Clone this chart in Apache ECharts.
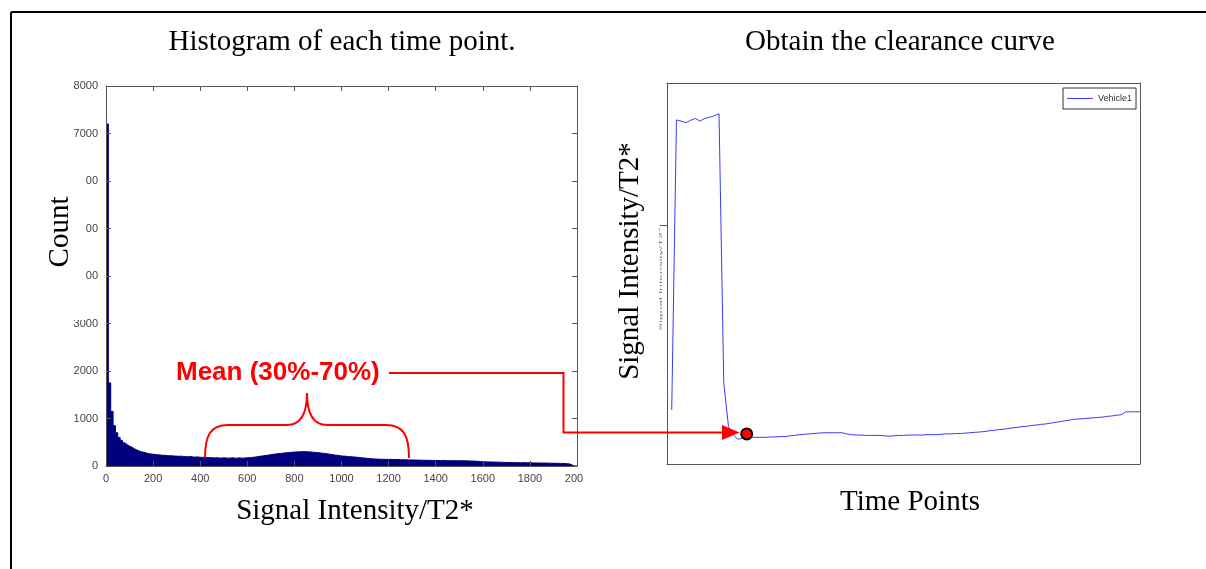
<!DOCTYPE html>
<html><head><meta charset="utf-8">
<script src="https://cdn.jsdelivr.net/npm/echarts@6/dist/echarts.min.js"></script>
<style>html,body{margin:0;padding:0;background:#fff}#c{width:1206px;height:569px}</style>
</head><body><div id="c"></div>
<script>
// ---- Data ----
const histBinWidth = 10; // signal intensity units per bin
const histCounts = [
 7200,1750,1150,850,700,600,540,490,450,420,
 395,365,340,318,300,288,275,262,255,248,
 242,236,232,226,224,220,216,214,210,208,
 204,207,200,197,195,199,190,188,191,184,
 181,186,177,180,174,171,176,169,167,172,
 169,165,168,172,164,167,170,164,168,173,
 176,181,186,193,201,208,216,222,231,238,
 246,252,259,264,270,276,280,286,288,293,
 296,298,301,303,300,299,295,291,286,281,
 276,270,263,256,249,241,233,226,219,213,
 208,204,199,195,191,187,182,177,171,166,
 161,156,151,148,146,143,142,141,140,139,
 139,137,136,135,133,132,131,129,128,127,
 126,124,124,122,121,120,119,118,117,117,
 116,115,115,114,113,113,112,112,111,111,
 110,109,108,107,106,104,102,99,95,91,
 88,86,85,84,83,81,80,78,76,75,
 74,73,72,71,70,70,69,70,68,67,
 66,65,64,63,62,62,61,60,59,58,
 57,56,55,54,52,48,42,20,0,0
];
const histYTickLabels = ['0','1000','2000','3000','4000','5000','6000','7000','8000'];
const histXTickLabels = ['0','200','400','600','800','1000','1200','1400','1600','1800','2000'];
const curveName = 'Vehicle1';
const curveValues = [
 14.2,90.3,90.0,89.6,90.2,90.7,90.0,90.7,91.0,91.4,
 91.9,21.3,9.8,7.6,6.5,6.8,7.0,7.0,7.0,7.0,
 7.0,7.1,7.1,7.2,7.2,7.4,7.5,7.7,7.8,7.9,
 8.0,8.1,8.2,8.2,8.2,8.2,8.2,7.9,7.7,7.6,
 7.6,7.5,7.5,7.5,7.5,7.4,7.3,7.4,7.5,7.5,
 7.6,7.6,7.6,7.6,7.7,7.7,7.7,7.8,7.9,7.9,
 8.0,8.0,8.1,8.2,8.3,8.4,8.5,8.7,8.8,9.0,
 9.1,9.3,9.5,9.6,9.8,9.9,10.1,10.2,10.4,10.5,
 10.7,10.9,11.1,11.3,11.5,11.7,11.8,11.9,12.0,12.1,
 12.2,12.3,12.5,12.6,12.8,12.9,13.7,13.7,13.7,13.7
];
const markedPoint = [16.85, 7.9];

// ---- Build ----
const histData = histCounts.map((c, i) => [i * histBinWidth, c]);
histData.push([histCounts.length * histBinWidth, 0]);
const curveData = curveValues.map((v, i) => [i + 1, v]);

const serif = '"Liberation Serif","Times New Roman",serif';
const sans = 'Arial,"Liberation Sans",sans-serif';
const boxLine = {show: true, onZero: false, lineStyle: {color: '#555', width: 1}};
const inTick = {show: true, inside: true, length: 5, lineStyle: {color: '#555', width: 1}};
const red = '#ff0000';
const redStroke = {stroke: red, lineWidth: 2, fill: null};
const curveColor = '#3a3aff';

const chart = echarts.init(document.getElementById('c'));
chart.setOption({
  animation: false,
  backgroundColor: '#fff',
  grid: [
    {left: 106, top: 86, width: 471, height: 380},
    {left: 667, top: 83, width: 473, height: 381}
  ],
  legend: {
    data: [{name: curveName, icon: 'path://M0,0 L26,0 L26,1 L0,1 Z'}],
    left: 1063, top: 88, orient: 'horizontal',
    borderColor: '#333', borderWidth: 1, padding: [6, 4, 6, 4],
    itemWidth: 26, itemHeight: 14, itemGap: 0, symbolKeepAspect: true,
    itemStyle: {color: curveColor},
    textStyle: {fontSize: 9, color: '#333', fontFamily: sans}
  },
  xAxis: [
    {gridIndex: 0, type: 'value', min: 0, max: 2000, interval: 200, position: 'bottom', z: 5,
     axisLine: boxLine, axisTick: inTick, splitLine: {show: false},
     axisLabel: {color: '#444', fontSize: 11, fontFamily: sans, margin: 7,
       formatter: (v) => histXTickLabels[Math.round(v / 200)]}},
    {gridIndex: 0, type: 'value', min: 0, max: 2000, interval: 200, position: 'top',
     axisLine: boxLine, axisTick: inTick, splitLine: {show: false}, axisLabel: {show: false}},
    {gridIndex: 1, type: 'value', min: 0, max: 100, position: 'bottom',
     axisLine: boxLine, axisTick: {show: false}, splitLine: {show: false}, axisLabel: {show: false}},
    {gridIndex: 1, type: 'value', min: 0, max: 100, position: 'top',
     axisLine: boxLine, axisTick: {show: false}, splitLine: {show: false}, axisLabel: {show: false}}
  ],
  yAxis: [
    {gridIndex: 0, type: 'value', min: 0, max: 8000, interval: 1000, position: 'left', z: 5,
     axisLine: boxLine, axisTick: inTick, splitLine: {show: false},
     axisLabel: {color: '#444', fontSize: 11, fontFamily: sans, margin: 8,
       formatter: (v) => histYTickLabels[Math.round(v / 1000)]}},
    {gridIndex: 0, type: 'value', min: 0, max: 8000, interval: 1000, position: 'right',
     axisLine: boxLine, axisTick: inTick, splitLine: {show: false}, axisLabel: {show: false}},
    {gridIndex: 1, type: 'value', min: 0, max: 100, position: 'left',
     axisLine: boxLine, axisTick: {show: false}, splitLine: {show: false}, axisLabel: {show: false}},
    {gridIndex: 1, type: 'value', min: 0, max: 100, position: 'right',
     axisLine: boxLine, axisTick: {show: false}, splitLine: {show: false}, axisLabel: {show: false}}
  ],
  series: [
    {name: 'hist', type: 'line', xAxisIndex: 0, yAxisIndex: 0, step: 'end', symbol: 'none',
     data: histData, lineStyle: {color: '#00007f', width: 1}, areaStyle: {color: '#00007f', opacity: 1}, z: 2},
    {name: curveName, type: 'line', xAxisIndex: 2, yAxisIndex: 2, symbol: 'none',
     data: curveData, lineStyle: {color: curveColor, width: 1}, itemStyle: {color: curveColor}},
    {name: 'mark', type: 'scatter', xAxisIndex: 2, yAxisIndex: 2, data: [markedPoint],
     symbolSize: 11, itemStyle: {color: red, borderColor: '#000', borderWidth: 2, opacity: 1}, z: 10}
  ],
  graphic: [
    // outer frame
    {type: 'line', shape: {x1: 11, y1: 12, x2: 1206, y2: 12}, style: {stroke: '#000', lineWidth: 2}},
    {type: 'line', shape: {x1: 11, y1: 12, x2: 11, y2: 569}, style: {stroke: '#000', lineWidth: 2}},
    // titles
    {type: 'text', x: 342, y: 42, style: {text: 'Histogram of each time point.', font: '29px ' + serif, fill: '#000', textAlign: 'center', textVerticalAlign: 'middle'}},
    {type: 'text', x: 900, y: 42, style: {text: 'Obtain the clearance curve', font: '29px ' + serif, fill: '#000', textAlign: 'center', textVerticalAlign: 'middle'}},
    {type: 'text', x: 355, y: 511, style: {text: 'Signal Intensity/T2*', font: '29px ' + serif, fill: '#000', textAlign: 'center', textVerticalAlign: 'middle'}},
    {type: 'text', x: 910, y: 502, style: {text: 'Time Points', font: '29px ' + serif, fill: '#000', textAlign: 'center', textVerticalAlign: 'middle'}},
    // Count label with its white box over the tick labels
    {type: 'rect', z: 50, shape: {x: 30, y: 162, width: 56, height: 158}, style: {fill: '#fff'}},
    {type: 'text', z: 51, x: 60, y: 232, rotation: Math.PI / 2, style: {text: 'Count', font: '29px ' + serif, fill: '#000', textAlign: 'center', textVerticalAlign: 'middle'}},
    // clip of last x tick label
    {type: 'rect', z: 50, shape: {x: 583, y: 470, width: 22, height: 20}, style: {fill: '#fff'}},
    // right y label
    {type: 'text', x: 630, y: 261, rotation: Math.PI / 2, style: {text: 'Signal Intensity/T2*', font: '29px ' + serif, fill: '#000', textAlign: 'center', textVerticalAlign: 'middle'}},
    // faint tiny original axis label
    {type: 'text', x: 661, y: 279, rotation: Math.PI / 2, scaleY: 0.25, style: {text: 'Signal Intensity/T2*', font: '12px ' + sans, fill: '#777', textAlign: 'center', textVerticalAlign: 'middle'}},
    {type: 'line', shape: {x1: 660, y1: 225.5, x2: 667, y2: 225.5}, style: {stroke: '#555', lineWidth: 1}},
    // red annotation
    {type: 'text', x: 176, y: 373, z: 20, style: {text: 'Mean (30%-70%)', font: 'bold 26px ' + sans, fill: red, textAlign: 'left', textVerticalAlign: 'middle'}},
    {type: 'polyline', z: 20, shape: {points: [[389, 373], [563.5, 373], [563.5, 432.5], [724, 432.5]]}, style: redStroke},
    {type: 'polygon', z: 20, shape: {points: [[722, 425], [739.5, 432.5], [722, 440]]}, style: {fill: red}},
    // brace
    {type: 'bezierCurve', z: 20, shape: {x1: 205, y1: 458, cpx1: 205, cpy1: 436, cpx2: 210, cpy2: 425, x2: 228, y2: 425}, style: redStroke},
    {type: 'line', z: 20, shape: {x1: 228, y1: 425, x2: 287, y2: 425}, style: redStroke},
    {type: 'bezierCurve', z: 20, shape: {x1: 287, y1: 425, cpx1: 301, cpy1: 425, cpx2: 307, cpy2: 414, x2: 307, y2: 393}, style: redStroke},
    {type: 'bezierCurve', z: 20, shape: {x1: 307, y1: 393, cpx1: 307, cpy1: 414, cpx2: 313, cpy2: 425, x2: 327, y2: 425}, style: redStroke},
    {type: 'line', z: 20, shape: {x1: 327, y1: 425, x2: 386, y2: 425}, style: redStroke},
    {type: 'bezierCurve', z: 20, shape: {x1: 386, y1: 425, cpx1: 404, cpy1: 425, cpx2: 409, cpy2: 436, x2: 409, y2: 458}, style: redStroke}
  ]
});
</script>
</body></html>
